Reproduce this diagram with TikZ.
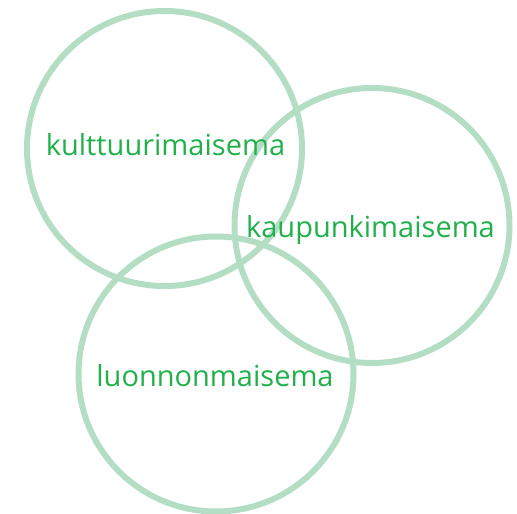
\documentclass[tikz,border=0pt]{standalone}
\usepackage{fontspec}
\setmainfont{Open Sans}
\definecolor{ringgreen}{RGB}{180,222,195}
\definecolor{textgreen}{RGB}{33,176,75}
\begin{document}
\begin{tikzpicture}[x=1pt,y=-1pt,
  ring/.style={draw=ringgreen,line width=6pt,circle,minimum size=275pt,inner sep=0pt},
  lbl/.style={text=textgreen,font=\fontsize{29}{33}\selectfont,anchor=base,inner sep=0pt}]
\useasboundingbox (0,0) rectangle (517,514);
\node[ring] (c1) at (164.5,148.5) {};
\node[ring] (c2) at (372,225.5) {};
\node[ring] (c3) at (216,374) {};
\node[lbl] (t1) at (165.5,155) {kulttuurimaisema};
\node[lbl] (t2) at (370.5,237) {kaupunkimaisema};
\node[lbl] (t3) at (215,386) {luonnonmaisema};
\end{tikzpicture}
\end{document}
